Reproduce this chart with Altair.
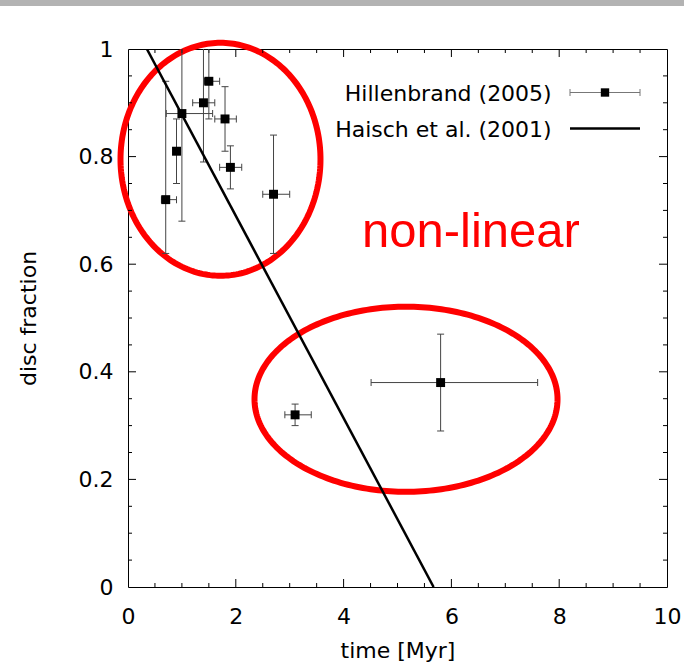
import altair as alt
import numpy as np
import pandas as pd

# ---- data ----
time_myr = [0.7, 0.9, 1.0, 1.4, 1.5, 1.8, 1.9, 2.7, 3.1, 5.8]
disc_frac = [0.72, 0.81, 0.88, 0.90, 0.94, 0.87, 0.78, 0.73, 0.32, 0.38]
time_lo = [0.62, 0.85, 0.71, 1.20, 1.42, 1.61, 1.70, 2.50, 2.91, 4.51]
time_hi = [0.90, 0.95, 1.57, 1.61, 1.70, 2.01, 2.11, 3.00, 3.40, 7.60]
frac_lo = [0.62, 0.75, 0.68, 0.79, 0.87, 0.81, 0.74, 0.62, 0.30, 0.29]
frac_hi = [0.94, 0.87, 1.08, 1.01, 1.01, 0.93, 0.82, 0.84, 0.34, 0.47]

haisch_time = [0.35, 5.67]
haisch_frac = [1.0, 0.0]

legend_labels = ["Hillenbrand (2005)", "Haisch et al. (2001)"]
annotation = ["non-linear"]

# ellipse annotations: centre x, centre y, radius x, radius y (data units)
ell_cx = [1.716, 5.158]
ell_cy = [0.795, 0.349]
ell_rx = [1.855, 2.811]
ell_ry = [0.2165, 0.172]

x_major = [0, 2, 4, 6, 8, 10]
x_minor = [0.5, 1, 1.5, 2.5, 3, 3.5, 4.5, 5, 5.5, 6.5, 7, 7.5, 8.5, 9, 9.5]
y_major = [0, 0.2, 0.4, 0.6, 0.8, 1.0]
y_minor = [0.05, 0.1, 0.15, 0.25, 0.3, 0.35, 0.45, 0.5, 0.55, 0.65, 0.7, 0.75,
           0.85, 0.9, 0.95]

# ---- layout ----
W, H = 539, 538
FONT = "DejaVu Sans"
ERR = "#444444"

xs = alt.Scale(domain=[0, 10], nice=False, zero=False)
ys = alt.Scale(domain=[0, 1], nice=False, zero=False)

AX = alt.Axis(values=x_major, title="time [Myr]", ticks=False, tickSize=0,
              domain=False, grid=False, labelPadding=36, labelFlush=False,
              labelBaseline="alphabetic", labelFont=FONT,
              labelFontSize=22, labelColor="black",
              titleFont=FONT, titleFontSize=22, titleFontWeight="normal",
              titleColor="black", titleBaseline="alphabetic",
              titleX=W / 2, titleY=70)
AY = alt.Axis(values=y_major, format="~g", title="disc fraction",
              ticks=False, tickSize=0, domain=False, grid=False,
              labelPadding=15, labelFlush=False, labelFont=FONT, labelFontSize=22,
              labelColor="black", titleFont=FONT, titleFontSize=22,
              titleFontWeight="normal", titleColor="black",
              titleBaseline="alphabetic", titleAngle=270,
              titleX=-93, titleY=H / 2)


def X(f):
    return alt.X(f, scale=xs, axis=AX)


def Y(f):
    return alt.Y(f, scale=ys, axis=AY)


df = pd.DataFrame({"t": time_myr, "f": disc_frac, "tlo": time_lo, "thi": time_hi,
                   "flo": frac_lo, "fhi": frac_hi})

# ellipse outlines
rows = []
ang = np.linspace(0, 2 * np.pi, 241)
for k in range(len(ell_cx)):
    for i, a in enumerate(ang):
        rows.append({"id": k, "i": i,
                     "ex": ell_cx[k] + ell_rx[k] * np.cos(a),
                     "ey": ell_cy[k] + ell_ry[k] * np.sin(a)})
ell_df = pd.DataFrame(rows)

ellipses = alt.Chart(ell_df).mark_line(color="#ff0000", strokeWidth=6, clip=False).encode(
    x=X("ex:Q"), y=Y("ey:Q"), detail="id:N", order="i:Q")

haisch = alt.Chart(pd.DataFrame({"t": haisch_time, "f": haisch_frac})).mark_line(
    color="black", strokeWidth=2.5, clip=True
).encode(x=X("t:Q"), y=Y("f:Q"))

vbar = alt.Chart(df).mark_rule(color=ERR, strokeWidth=1, clip=True).encode(
    x=X("t:Q"), y=Y("flo:Q"), y2="fhi:Q")
hbar = alt.Chart(df).mark_rule(color=ERR, strokeWidth=1, clip=True).encode(
    y=Y("f:Q"), x=X("tlo:Q"), x2="thi:Q")

caps = []
for fld in ["flo", "fhi"]:
    caps.append(alt.Chart(df).mark_tick(color=ERR, orient="horizontal", size=7,
                                        thickness=1, clip=True, opacity=1).encode(
        x=X("t:Q"), y=Y(f"{fld}:Q")))
for fld in ["tlo", "thi"]:
    caps.append(alt.Chart(df).mark_tick(color=ERR, orient="vertical", size=7,
                                        thickness=1, clip=True, opacity=1).encode(
        x=X(f"{fld}:Q"), y=Y("f:Q")))

points = alt.Chart(df).mark_point(shape="square", filled=True, size=80,
                                  color="black", opacity=1).encode(
    x=X("t:Q"), y=Y("f:Q"))


# inward ticks on all four sides
def xticks(vals, L):
    d = pd.DataFrame({"v": vals})
    b = alt.Chart(d).mark_rule(color="black", strokeWidth=1).encode(
        x=X("v:Q"), y=alt.value(H), y2=alt.value(H - L))
    t = alt.Chart(d).mark_rule(color="black", strokeWidth=1).encode(
        x=X("v:Q"), y=alt.value(0), y2=alt.value(L))
    return [b, t]


def yticks(vals, L):
    d = pd.DataFrame({"v": vals})
    l = alt.Chart(d).mark_rule(color="black", strokeWidth=1).encode(
        y=Y("v:Q"), x=alt.value(0), x2=alt.value(L))
    r = alt.Chart(d).mark_rule(color="black", strokeWidth=1).encode(
        y=Y("v:Q"), x=alt.value(W), x2=alt.value(W - L))
    return [l, r]


tick_layers = (xticks(x_major[1:-1], 8) + xticks(x_minor, 4)
               + yticks(y_major[1:-1], 8) + yticks(y_minor, 4))

# legend (drawn inside the plot, top right)
one = pd.DataFrame({"k": [0]})
leg_txt = []
for lab, yb in zip(legend_labels, [51.7, 87.7]):
    leg_txt.append(alt.Chart(pd.DataFrame({"lab": [lab]})).mark_text(
        align="right", baseline="alphabetic", font=FONT, fontSize=22, color="black"
    ).encode(x=alt.value(423.7), y=alt.value(yb), text="lab:N"))

leg_err = alt.Chart(one).mark_rule(color="#777777", strokeWidth=1).encode(
    x=alt.value(442), x2=alt.value(512), y=alt.value(43.5))
leg_cap1 = alt.Chart(one).mark_rule(color="#777777", strokeWidth=1).encode(
    x=alt.value(442), y=alt.value(40), y2=alt.value(47))
leg_cap2 = alt.Chart(one).mark_rule(color="#777777", strokeWidth=1).encode(
    x=alt.value(512), y=alt.value(40), y2=alt.value(47))
leg_sq = alt.Chart(one).mark_point(shape="square", filled=True, size=70,
                                   color="black", opacity=1).encode(
    x=alt.value(477), y=alt.value(43.5))
leg_line = alt.Chart(one).mark_rule(color="black", strokeWidth=2.5).encode(
    x=alt.value(442), x2=alt.value(512), y=alt.value(79.5))

note = alt.Chart(pd.DataFrame({"txt": annotation})).mark_text(
    align="left", baseline="alphabetic", font="Liberation Sans", fontSize=49,
    color="#ff0000"
).encode(x=alt.value(234), y=alt.value(197.7), text="txt:N")

topbar = alt.Chart(one).mark_rect(color="#b3b3b3").encode(
    x=alt.value(-128), x2=alt.value(556), y=alt.value(-49), y2=alt.value(-43))

chart = alt.layer(
    topbar, ellipses, *tick_layers, vbar, hbar, *caps, haisch, points,
    leg_err, leg_cap1, leg_cap2, leg_sq, leg_line, *leg_txt, note,
).properties(
    width=W, height=H,
    padding={"left": 128, "top": 49, "right": 17, "bottom": 79},
    autosize=alt.AutoSizeParams(type="none"),
    background="white",
).configure_view(stroke="black", strokeWidth=1)

chart.save("out.html", embed_options={"renderer": "svg", "actions": False})
